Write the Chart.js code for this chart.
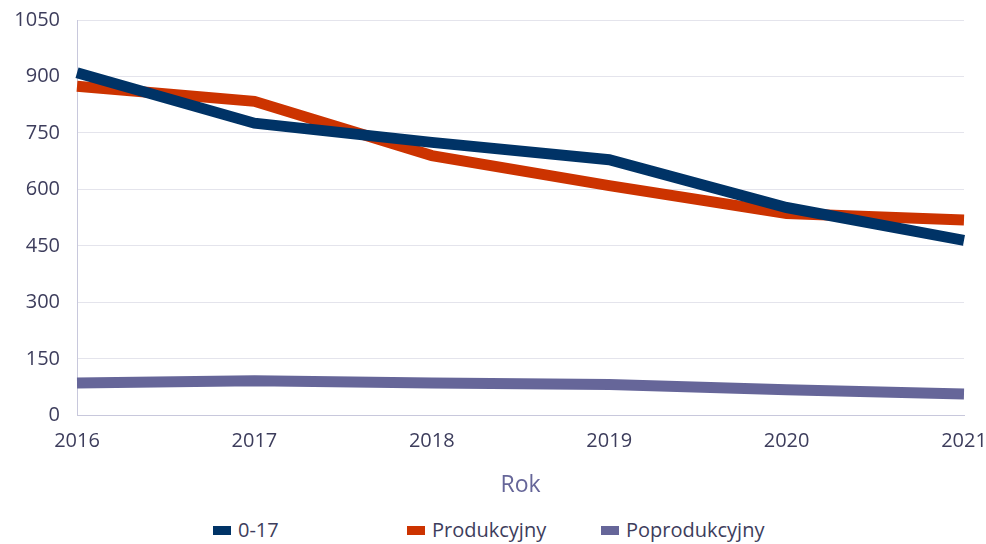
<!DOCTYPE html>
<html lang="pl">
<head>
  <meta charset="UTF-8" />
  <title>Ludność według grup wieku</title>
  <script src="https://cdn.jsdelivr.net/npm/chart.js"></script>
  <style>
    html, body { margin: 0; padding: 0; background: #fff; }
    #wrap { width: 986px; height: 505px; position: relative; }
    #legenda {
      display: flex; margin-top: 13px; padding-left: 213px;
      font-family: "Open Sans", sans-serif; font-size: 20px; color: #3d3d5c;
      line-height: 24px;
    }
    .poz { width: 194px; display: flex; align-items: center; }
    .poz.ostatni { width: auto; }
    .kwadrat { width: 18px; height: 9px; margin-right: 7px; display: inline-block; }
  </style>
</head>
<body>
  <div id="wrap"><canvas id="wykres"></canvas></div>
  <div id="legenda"></div>

  <script>
    const lata = ['2016', '2017', '2018', '2019', '2020', '2021'];
    const grupa017 = [910, 776, 725, 679, 552, 465];
    const produkcyjny = [874, 834, 690, 610, 536, 519];
    const poprodukcyjny = [86, 92, 86, 82, 68, 57];

    const kolory = ['#003366', '#cc3300', '#666699'];
    const nazwy = ['0-17', 'Produkcyjny', 'Poprodukcyjny'];
    const serie = [grupa017, produkcyjny, poprodukcyjny];

    const ctx = document.getElementById('wykres').getContext('2d');
    new Chart(ctx, {
      type: 'line',
      data: {
        labels: lata,
        datasets: serie.map((dane, i) => ({
          label: nazwy[i],
          data: dane,
          borderColor: kolory[i],
          backgroundColor: kolory[i],
          borderWidth: 11,
          pointRadius: 0,
          tension: 0,
          fill: false
        }))
      },
      options: {
        responsive: true,
        maintainAspectRatio: false,
        animation: false,
        layout: { padding: { top: 20, right: 0, bottom: 6, left: 0 } },
        plugins: {
          legend: { display: false },
          tooltip: { enabled: false }
        },
        scales: {
          y: {
            min: 0,
            max: 1050,
            ticks: {
              stepSize: 150,
              padding: 17,
              color: '#3d3d5c',
              font: { family: 'Open Sans', size: 20 },
              callback: v => String(v)
            },
            grid: { color: '#e4e4ec', drawTicks: false },
            border: { color: '#c8c8dc', width: 1 },
            afterFit: s => { s.width = 77; s.paddingTop = 0; s.paddingBottom = 0; }
          },
          x: {
            offset: false,
            ticks: {
              padding: 14,
              color: '#3d3d5c',
              font: { family: 'Open Sans', size: 20 }
            },
            grid: { display: false, drawTicks: false },
            border: { color: '#c8c8dc', width: 1 },
            title: {
              display: true,
              text: 'Rok',
              color: '#666699',
              font: { family: 'Open Sans', size: 23 },
              padding: { top: 4, bottom: 0 }
            },
            afterFit: s => { s.paddingRight = 22; s.paddingLeft = 0; }
          }
        }
      }
    });

    // legenda w HTML (stałe odstępy jak w oryginale)
    const leg = document.getElementById('legenda');
    nazwy.forEach((n, i) => {
      const d = document.createElement('div');
      d.className = 'poz' + (i === nazwy.length - 1 ? ' ostatni' : '');
      d.innerHTML = '<span class="kwadrat" style="background:' + kolory[i] + '"></span>' + n;
      leg.appendChild(d);
    });
  </script>
</body>
</html>
